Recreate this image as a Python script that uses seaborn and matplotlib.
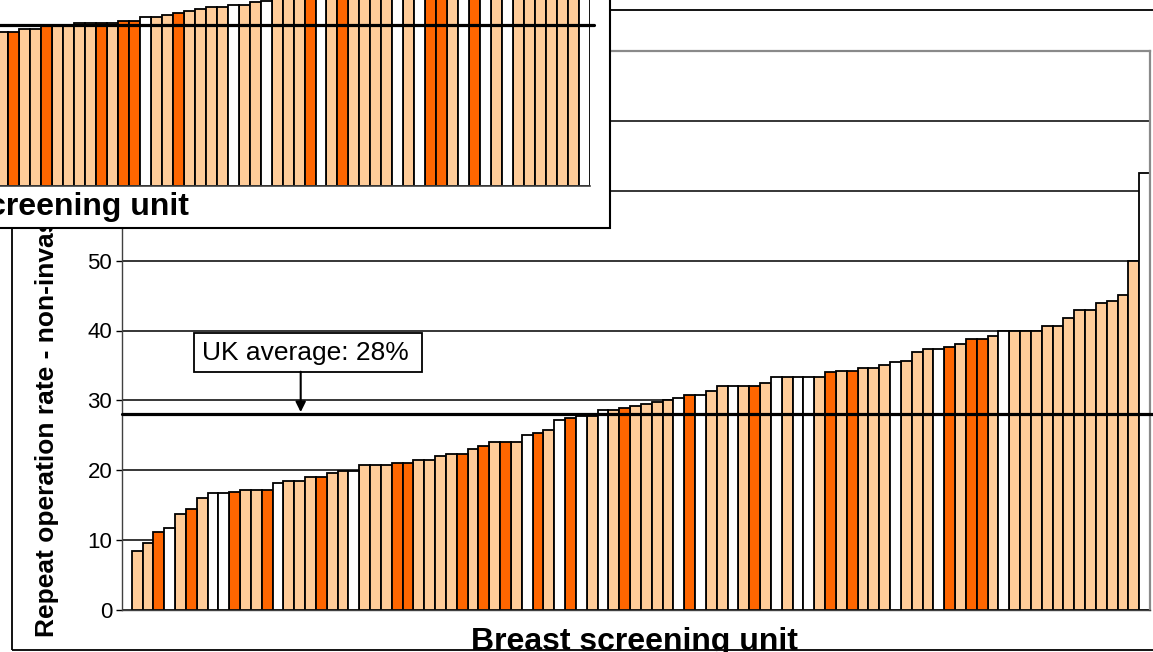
import matplotlib
matplotlib.use("Agg")
import matplotlib.pyplot as plt
from matplotlib.patches import Rectangle
import pandas as pd
import seaborn as sns

# Repeat operation rates by breast screening unit, sorted ascending
rates = [8.45, 9.65, 11.1, 11.7, 13.7, 14.4, 16.1, 16.7, 16.7, 16.95,
         17.2, 17.2, 17.2, 18.15, 18.4, 18.4, 19.0, 19.0, 19.6, 19.9,
         19.9, 20.8, 20.8, 20.8, 21.1, 21.1, 21.4, 21.4, 22.0, 22.3,
         22.3, 23.1, 23.4, 24.0, 24.0, 24.0, 25.1, 25.4, 25.8, 27.2,
         27.5, 27.7, 27.7, 28.65, 28.65, 28.9, 29.2, 29.5, 29.8, 30.1,
         30.4, 30.7, 30.7, 31.3, 32.1, 32.1, 32.1, 32.1, 32.5, 33.3,
         33.3, 33.3, 33.3, 33.3, 34.0, 34.2, 34.2, 34.7, 34.7, 35.1,
         35.5, 35.7, 36.9, 37.4, 37.4, 37.7, 38.1, 38.8, 38.8, 39.2,
         39.9, 39.9, 39.9, 39.9, 40.6, 40.6, 41.8, 43.0, 43.0, 43.9,
         44.2, 45.1, 50.0, 62.6]
# unit group per bar: D = dark, L = light, W = unshaded
groups = list("LLDWLDLWWD" "LLDWLLLDLL" "WLLLDDLLLL" "DLDLDLWDLW"
              "DWLWLDLLLL" "WDWLLWLDLW" "LWWLDLDLLL" "WLLLWDLDDL"
              "WLLLLLLLLL" "LLLW")
units = [f"U{i + 1:02d}" for i in range(len(rates))]
uk_average = 28

# Companion panel (earlier chart in the same series)
panel_rates = [22.1, 22.1, 22.5, 22.5, 23.1, 23.1, 23.1, 23.4, 23.4, 23.4,
               23.4, 23.6, 23.6, 24.2, 24.2, 24.5, 24.8, 25.1, 25.4, 25.7,
               25.7, 26.0, 26.0, 26.3, 26.5, 26.9, 27.2, 27.5, 27.8, 28.1,
               28.4, 28.8, 29.1, 29.5, 29.9, 30.3, 30.7, 31.2, 31.6, 32.0,
               32.5, 33.0, 33.6, 34.2, 34.8, 35.5, 36.2, 37.0, 38.0, 39.1,
               40.5, 42.2, 45.0, 52.0]
panel_groups = list("LDLLDLLLLD" "LDDWLLDLLL" "LWLLWLLLDW" "LDLLLLWLWD"
                    "DLWDWLWLLL" "LLLW")
panel_units = [f"P{i + 1:02d}" for i in range(len(panel_rates))]
panel_average = 23

palette = {"D": "#FF6600", "L": "#FFCC99", "W": "#FFFFFF"}

sns.set_style("white")
plt.rcParams["font.family"] = ["Liberation Sans", "DejaVu Sans"]
plt.rcParams["text.color"] = "black"
plt.rcParams["axes.labelcolor"] = "black"
plt.rcParams["ytick.color"] = "black"
plt.rcParams["xtick.color"] = "black"

W, H = 1153, 652
fig = plt.figure(figsize=(W / 100, H / 100), dpi=100)
fig.patch.set_facecolor("white")


def px_box(x0, y0, x1, y1):
    return [x0 / W, 1 - y1 / H, (x1 - x0) / W, (y1 - y0) / H]


# outer chart frame
fig.add_artist(Rectangle((12 / W, 1 - 650 / H), (1200 - 12) / W, (650 - 10) / H,
                         transform=fig.transFigure, fill=False,
                         edgecolor="black", linewidth=1.3, zorder=1))

# ---------- main chart ----------
ax = fig.add_axes(px_box(122, 51, 1150, 610))
ax.set_zorder(2)
df = pd.DataFrame({"unit": units, "rate": rates, "group": groups})
sns.barplot(data=df, x="unit", y="rate", hue="group", palette=palette,
            order=units, dodge=False, width=1.0, saturation=1,
            edgecolor="black", linewidth=1.3, errorbar=None,
            legend=False, ax=ax)
ax.set_xlim(-1.395, len(rates) - 0.5)
ax.set_ylim(0, 80)
ax.set_yticks(range(0, 81, 10))
ax.set_xticks([])
ax.set_xlabel("")
ax.set_ylabel("")
ax.set_axisbelow(True)
ax.yaxis.grid(True, color="black", linewidth=1.1)
ax.tick_params(axis="y", which="both", left=True, length=4, width=1,
               color="black", direction="out", labelsize=16, pad=3,
               labelcolor="black")
for side in ("top", "right"):
    ax.spines[side].set_color("#8a8a8a")
    ax.spines[side].set_linewidth(1.6)
for side in ("left", "bottom"):
    ax.spines[side].set_color("#404040")
    ax.spines[side].set_linewidth(1.0)

ax.axhline(uk_average, xmin=0, xmax=1.01, color="black", linewidth=2.3,
           clip_on=False, zorder=4)

# average label box with arrow down to the line
ax.add_patch(Rectangle((5.25, 34.1), 26.3 - 5.25, 39.65 - 34.1,
                       facecolor="white", edgecolor="black", linewidth=1.3,
                       zorder=5))
ax.text(5.95, 36.85, "UK average: 28%", fontsize=19, ha="left",
        va="center", color="black", zorder=6)
ax.annotate("", xy=(15.1, uk_average), xytext=(15.1, 34.1),
            arrowprops=dict(arrowstyle="-|>,head_length=0.6,head_width=0.3",
                            color="black", lw=1.5, shrinkA=0, shrinkB=1.6,
                            mutation_scale=10),
            zorder=6)

fig.text(634 / W, 1 - 650 / H, "Breast screening unit", fontsize=23,
         fontweight="bold", ha="center", va="baseline", color="black",
         zorder=3)
fig.text(47 / W, 1 - 637 / H,
         "Repeat operation rate - non-invasive cancers (%)",
         fontsize=19, fontweight="bold", rotation=90, ha="center",
         va="bottom", color="black", zorder=3)

# ---------- companion panel in the upper left ----------
fig.add_artist(Rectangle((-30 / W, 1 - 228 / H), (610 + 30) / W, (228 + 30) / H,
                         transform=fig.transFigure, facecolor="white",
                         edgecolor="black", linewidth=1.5, zorder=5))
pax = fig.add_axes(px_box(-2.9, 186 - 6.98 * 60, 590, 186))
pax.set_zorder(6)
pdf = pd.DataFrame({"unit": panel_units, "rate": panel_rates,
                    "group": panel_groups})
sns.barplot(data=pdf, x="unit", y="rate", hue="group", palette=palette,
            order=panel_units, dodge=False, width=1.0, saturation=1,
            edgecolor="black", linewidth=1.3, errorbar=None,
            legend=False, ax=pax)
pax.set_xlim(-0.5, len(panel_rates) - 0.5)
pax.set_ylim(0, 60)
pax.set_xticks([])
pax.set_yticks([])
pax.set_xlabel("")
pax.set_ylabel("")
for side in ("top", "right", "left"):
    pax.spines[side].set_visible(False)
pax.spines["bottom"].set_color("#404040")
pax.spines["bottom"].set_linewidth(1.2)
pax.axhline(panel_average, xmin=0, xmax=1.007, color="black",
            linewidth=2.3, clip_on=False, zorder=4)
fig.text(189 / W, 1 - 215 / H, "Breast screening unit", fontsize=23,
         fontweight="bold", ha="right", va="baseline", color="black",
         zorder=7)

fig.savefig("out.png", dpi=100)
